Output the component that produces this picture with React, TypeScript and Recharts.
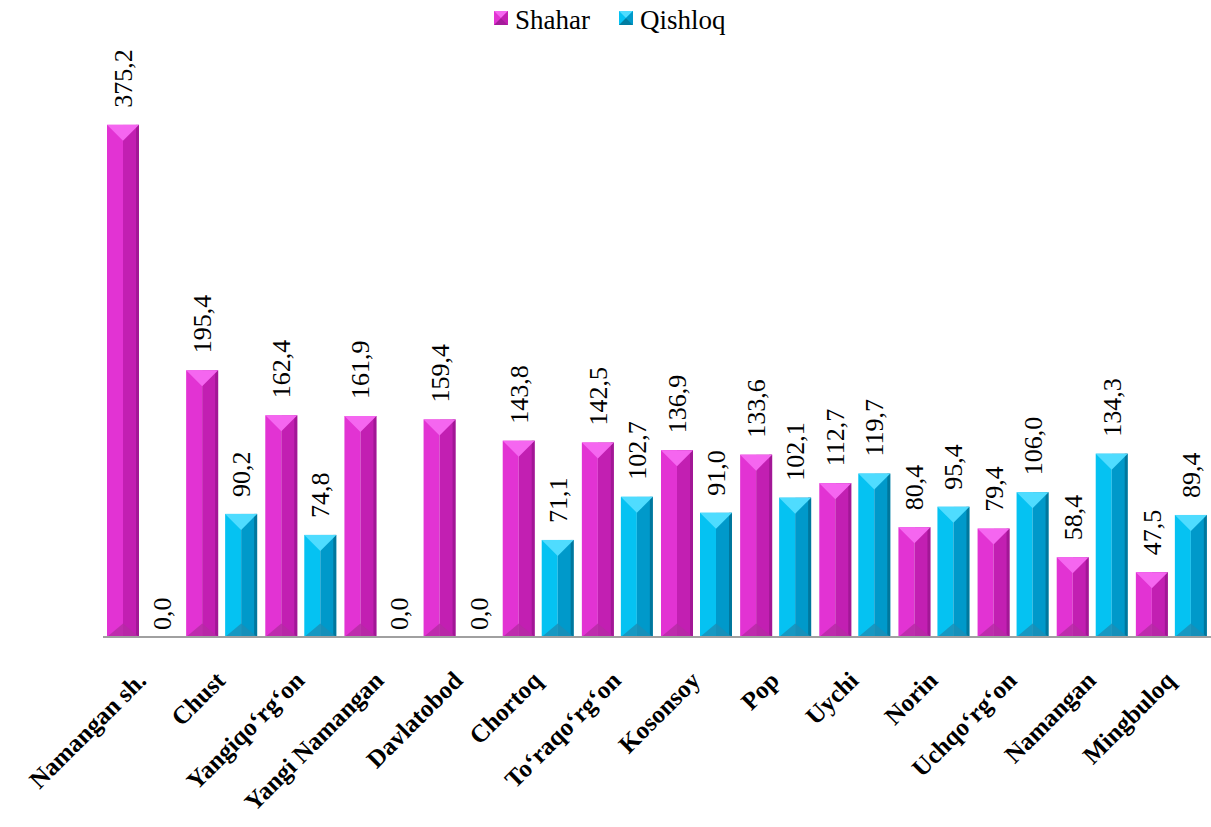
import React from "react";
import { BarChart, Bar, XAxis, YAxis, LabelList } from "recharts";

const categories = [
  "Namangan sh.",
  "Chust",
  "Yangiqo‘rg‘on",
  "Yangi Namangan",
  "Davlatobod",
  "Chortoq",
  "To‘raqo‘rg‘on",
  "Kosonsoy",
  "Pop",
  "Uychi",
  "Norin",
  "Uchqo‘rg‘on",
  "Namangan",
  "Mingbuloq",
];
const shahar = [375.2, 195.4, 162.4, 161.9, 159.4, 143.8, 142.5, 136.9, 133.6, 112.7, 80.4, 79.4, 58.4, 47.5];
const qishloq = [0, 90.2, 74.8, 0, 0, 71.1, 102.7, 91.0, 102.1, 119.7, 95.4, 106.0, 134.3, 89.4];

const FONT = "'Liberation Serif', 'Times New Roman', Tinos, 'DejaVu Serif', serif";

const PALETTE = {
  pink: { left: "#E233D3", right: "#C21FB2", top: "#F566F0", bottom: "#B52AA4", edge: "#8C1283" },
  blue: { left: "#05C2F2", right: "#0099CA", top: "#4FDCFF", bottom: "#1C8DB5", edge: "#00607F" },
};

const data = categories.map((name, i) => ({ name, shahar: shahar[i], qishloq: qishloq[i] }));

function bevelShape(kind: "pink" | "blue") {
  return (props: any) => {
    const { x, y, width: w, height: h } = props;
    if (!h || h <= 0) return <g />;
    const c = PALETTE[kind];
    const b = Math.min(w / 2, h / 2);
    const cx = x + w / 2;
    return (
      <g>
        <rect x={x} y={y} width={w / 2} height={h} fill={c.left} />
        <rect x={cx} y={y} width={w / 2} height={h} fill={c.right} />
        <rect x={x + w - 3} y={y} width={3} height={h} fill={c.edge} opacity={0.6} />
        <polygon points={`${x},${y} ${x + w},${y} ${cx},${y + b}`} fill={c.top} />
        <polygon points={`${x},${y + h} ${x + w},${y + h} ${cx},${y + h - b * 0.85}`} fill={c.bottom} opacity={0.8} />
      </g>
    );
  };
}

function ValueLabel(props: any) {
  const { x, y, width, height, value } = props;
  const cx = x + width / 2;
  const v = Number(value);
  const base = v === 0 ? y + height - 7 : y - 17;
  const tx = cx + 9;
  return (
    <text
      x={tx}
      y={base}
      transform={`rotate(-90 ${tx} ${base})`}
      fontFamily={FONT}
      fontSize={26}
      fill="#000"
      textAnchor="start"
    >
      {v.toFixed(1).replace(".", ",")}
    </text>
  );
}

function CategoryTick(props: any) {
  const { x, y, payload } = props;
  const tx = x + 5;
  const ty = y + 45;
  return (
    <text
      x={tx}
      y={ty}
      transform={`rotate(-45 ${tx} ${ty})`}
      textAnchor="end"
      fontFamily={FONT}
      fontWeight="bold"
      fontSize={25}
      fill="#000"
    >
      {payload.value}
    </text>
  );
}

function LegendSquare({ x, y, kind }: { x: number; y: number; kind: "pink" | "blue" }) {
  const c = PALETTE[kind];
  const s = 14;
  return (
    <g>
      <rect x={x} y={y} width={s} height={s} fill={c.left} />
      <polygon points={`${x},${y} ${x + s},${y} ${x + s / 2},${y + s / 2}`} fill={c.top} />
      <polygon points={`${x + s},${y} ${x + s},${y + s} ${x + s / 2},${y + s / 2}`} fill={c.right} />
      <polygon points={`${x},${y + s} ${x + s},${y + s} ${x + s / 2},${y + s / 2}`} fill={c.edge} opacity={0.7} />
    </g>
  );
}

export default function App() {
  return (
    <div style={{ position: "absolute", left: 0, top: 0, width: 1211, height: 827, background: "#fff" }}>
      <svg style={{ position: "absolute", left: 0, top: 0 }} width={1211} height={40}>
        <LegendSquare x={494} y={11} kind="pink" />
        <text x={515} y={29} fontFamily={FONT} fontSize={27} fill="#000">Shahar</text>
        <LegendSquare x={619} y={11} kind="blue" />
        <text x={640} y={29} fontFamily={FONT} fontSize={27} fill="#000">Qishloq</text>
      </svg>
      <BarChart
        width={1211}
        height={827}
        data={data}
        margin={{ top: 91, right: 0, left: 103, bottom: 10 }}
        barCategoryGap={4}
        barGap={7}
      >
        <XAxis
          dataKey="name"
          interval={0}
          height={180}
          tickLine={false}
          tickSize={0}
          tickMargin={0}
          axisLine={{ stroke: "#A0A0A0", strokeWidth: 2 }}
          tick={<CategoryTick />}
        />
        <YAxis hide domain={[0, 400]} />
        <Bar dataKey="shahar" shape={bevelShape("pink")} isAnimationActive={false}>
          <LabelList dataKey="shahar" content={<ValueLabel />} />
        </Bar>
        <Bar dataKey="qishloq" shape={bevelShape("blue")} isAnimationActive={false}>
          <LabelList dataKey="qishloq" content={<ValueLabel />} />
        </Bar>
      </BarChart>
    </div>
  );
}
